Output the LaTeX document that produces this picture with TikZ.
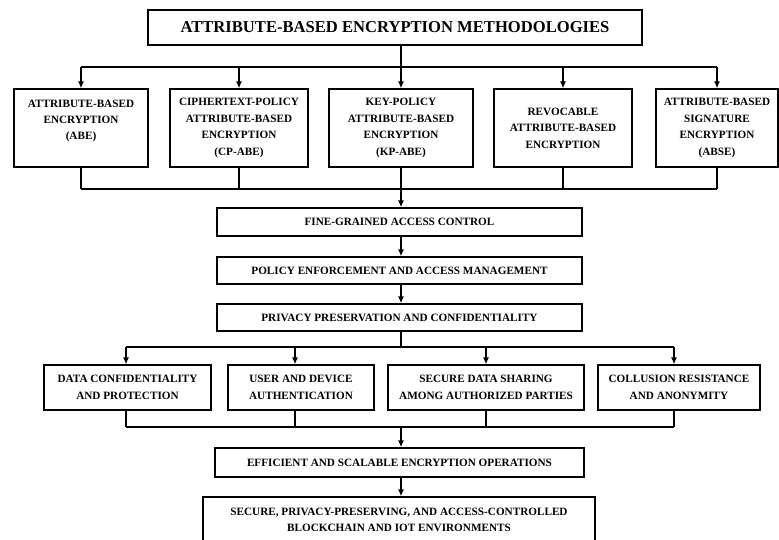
\documentclass[tikz,border=0pt]{standalone}
\usepackage{fontspec}
\setmainfont{Liberation Serif}
\usetikzlibrary{arrows.meta}
\begin{document}
\begin{tikzpicture}[x=1pt,y=-1pt,
  box/.style={draw,line width=1.3pt,align=center,inner sep=0pt,
    font=\bfseries\fontsize{11.2}{16.4}\selectfont},
  wire/.style={line width=1.3pt},
  arr/.style={wire,-{Latex[length=7pt,width=6pt]}}]
\useasboundingbox (0,0) rectangle (779,540);
\fill[white] (0,0) rectangle (779,540);

% heading
\node[box,minimum width=494,minimum height=35,font=\bfseries\fontsize{16.6}{20}\selectfont]
  (title) at (395,27.5) {ATTRIBUTE-BASED ENCRYPTION METHODOLOGIES};

% encryption schemes
\node[box,minimum width=134,minimum height=78] (b1) at (81,128)
  {ATTRIBUTE-BASED\\ENCRYPTION\\(ABE)\\~};
\node[box,minimum width=138,minimum height=78] (b2) at (239,128)
  {CIPHERTEXT-POLICY\\ATTRIBUTE-BASED\\ENCRYPTION\\(CP-ABE)};
\node[box,minimum width=144,minimum height=78] (b3) at (401,128)
  {KEY-POLICY\\ATTRIBUTE-BASED\\ENCRYPTION\\(KP-ABE)};
\node[box,minimum width=138,minimum height=78] (b4) at (563,128)
  {REVOCABLE\\ATTRIBUTE-BASED\\ENCRYPTION};
\node[box,minimum width=122,minimum height=78] (b5) at (717,128)
  {ATTRIBUTE-BASED\\SIGNATURE\\ENCRYPTION\\(ABSE)};

% central chain
\node[box,minimum width=365,minimum height=28] (fine) at (399.5,222)
  {FINE-GRAINED ACCESS CONTROL};
\node[box,minimum width=365,minimum height=27] (policy) at (399.5,270.5)
  {POLICY ENFORCEMENT AND ACCESS MANAGEMENT};
\node[box,minimum width=365,minimum height=27] (privacy) at (399.5,317.5)
  {PRIVACY PRESERVATION AND CONFIDENTIALITY};

% security properties
\node[box,minimum width=167,minimum height=45] (pa) at (127.5,387.5)
  {DATA CONFIDENTIALITY\\AND PROTECTION};
\node[box,minimum width=146,minimum height=45] (pb) at (301,387.5)
  {USER AND DEVICE\\AUTHENTICATION};
\node[box,minimum width=196,minimum height=45] (pc) at (486,387.5)
  {SECURE DATA SHARING\\AMONG AUTHORIZED PARTIES};
\node[box,minimum width=162,minimum height=45] (pd) at (679,387.5)
  {COLLUSION RESISTANCE\\AND ANONYMITY};

% outcome
\node[box,minimum width=369,minimum height=29] (eff) at (399.5,462.5)
  {EFFICIENT AND SCALABLE ENCRYPTION OPERATIONS};
\node[box,minimum width=392,minimum height=46] (final) at (399,520)
  {SECURE, PRIVACY-PRESERVING, AND ACCESS-CONTROLLED\\BLOCKCHAIN AND IOT ENVIRONMENTS};

% junction points on the spine
\coordinate (j1) at (401,67);
\coordinate (j2) at (401,189);
\coordinate (j3) at (401,347);
\coordinate (j4) at (401,427);

% heading to schemes
\draw[wire] (title.south -| j1) -- (j1);
\draw[wire] (b1.north |- j1) -- (b5.north |- j1);
\foreach \n in {b1,b2,b3,b4,b5} \draw[arr] (\n.north |- j1) -- (\n.north);

% schemes merge into the chain
\draw[wire] (b1.south |- j2) -- (b5.south |- j2);
\foreach \n in {b1,b2,b3,b4,b5} \draw[wire] (\n.south) -- (\n.south |- j2);
\draw[arr] (j2) -- (fine.north -| j2);
\draw[arr] (fine.south -| j2) -- (policy.north -| j2);
\draw[arr] (policy.south -| j2) -- (privacy.north -| j2);

% chain to properties
\coordinate (ta) at ([xshift=-1.5]pa.north);
\coordinate (tb) at ([xshift=-6]pb.north);
\coordinate (tc) at (pc.north);
\coordinate (td) at ([xshift=-5]pd.north);
\draw[wire] (privacy.south -| j3) -- (j3);
\draw[wire] (ta |- j3) -- (td |- j3);
\foreach \t in {ta,tb,tc,td} \draw[arr] (\t |- j3) -- (\t);

% properties merge into the outcome
\draw[wire] (ta |- j4) -- (td |- j4);
\foreach \t/\n in {ta/pa,tb/pb,tc/pc,td/pd} \draw[wire] (\t |- \n.south) -- (\t |- j4);
\draw[arr] (j4) -- (eff.north -| j4);
\draw[arr] (eff.south -| j4) -- (final.north -| j4);
\end{tikzpicture}
\end{document}
